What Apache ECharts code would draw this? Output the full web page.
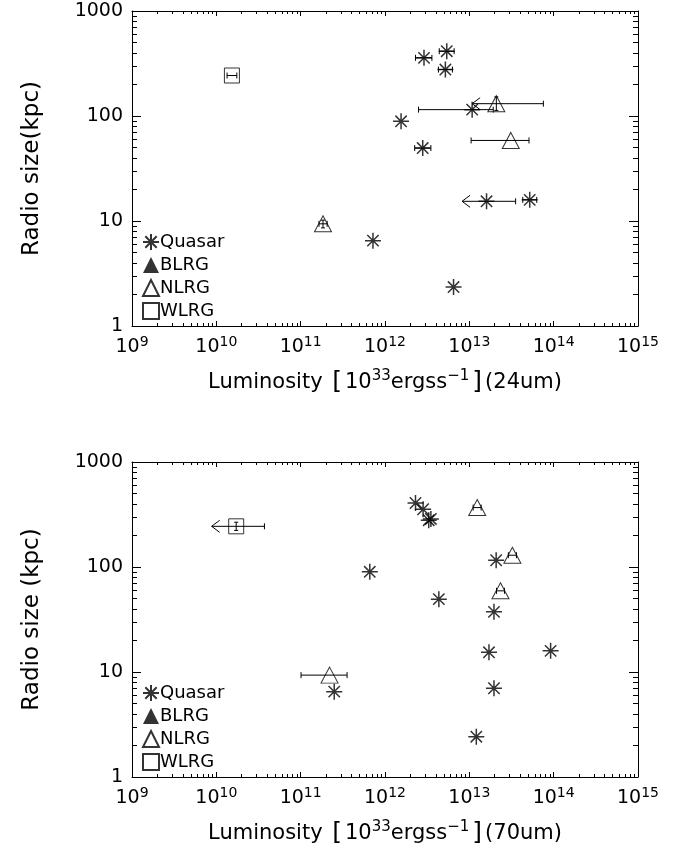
<!DOCTYPE html>
<html>
<head>
<meta charset="utf-8">
<script src="https://cdn.jsdelivr.net/npm/echarts@6/dist/echarts.min.js"></script>
<style>
html,body{margin:0;padding:0;background:#fff;}
#c{width:681px;height:853px;}
</style>
</head>
<body>
<div id="c"></div>
<script>
// ---------- Data: top panel (24um) ----------
const q24_L   = [2.9e12, 5.4e12, 5.2e12, 1.55e12, 2.8e12, 1.08e13, 1.6e13, 5.2e13, 7.2e11, 6.5e12];
const q24_R   = [358, 414, 277, 89, 49.5, 115, 15.4, 15.9, 6.5, 2.35];
const q24_Llo = [2.3e12, 4.4e12, 4.3e12, 0, 2.25e12, 2.5e12, 8.2e12, 4.3e13, 0, 0];
const q24_Lhi = [3.6e12, 6.6e12, 6.3e12, 0, 3.5e12, 1.92e13, 3.54e13, 6.3e13, 0, 0];
const q24_lim = [0, 0, 0, 0, 0, 0, 1, 0, 0, 0];

const n24_L   = [2.09e13, 3.1e13, 1.84e11];
const n24_R   = [131, 58.5, 9.4];
const n24_Llo = [1.08e13, 1.05e13, 1.65e11];
const n24_Lhi = [7.55e13, 5.1e13, 2.06e11];
const n24_lim = [1, 0, 0];
const n24_Rlo = [113, 0, 8.6];
const n24_Rhi = [152, 0, 10.2];

const w24_L   = [1.53e10];
const w24_R   = [243];
const w24_Llo = [1.34e10];
const w24_Lhi = [1.75e10];
const w24_lim = [0];

// ---------- Data: bottom panel (70um) ----------
const q70_L = [2.3e12, 2.83e12, 3.3e12, 3.5e12, 6.6e11, 4.35e12, 2.08e13, 1.96e13, 1.71e13, 9.2e13, 1.96e13, 2.5e11, 1.21e13];
const q70_R = [407, 355, 279, 287, 90, 49.4, 116, 37.4, 15.4, 15.9, 7.0, 6.5, 2.42];

const n70_L   = [1.24e13, 3.24e13, 2.34e13, 2.2e11];
const n70_R   = [368, 129.5, 59.3, 9.34];
const n70_Llo = [1.11e13, 2.9e13, 2.1e13, 1.01e11];
const n70_Lhi = [1.38e13, 3.62e13, 2.61e13, 3.55e11];
const n70_lim = [0, 0, 0, 0];

const w70_L   = [1.72e10];
const w70_R   = [244];
const w70_Llo = [8.8e9];
const w70_Lhi = [3.72e10];
const w70_lim = [1];
const w70_Rlo = [223];
const w70_Rhi = [267];

// ---------- Axes / labels ----------
const xRange = [1e9, 1e15];
const yRange = [1, 1000];
const legendNames = ['Quasar', 'BLRG', 'NLRG', 'WLRG'];
const xTitle24 = ['Luminosity ', '[', '10', '33', 'ergss', '\u22121', ']', '(24um)'];
const xTitle70 = ['Luminosity ', '[', '10', '33', 'ergss', '\u22121', ']', '(70um)'];
const yTitleTop = 'Radio size(kpc)';
const yTitleBot = 'Radio size (kpc)';

const FONT = 'DejaVu Sans';
const ASTER = 'path://M10,0L10,20M0,10L20,10M2.9,2.9L17.1,17.1M2.9,17.1L17.1,2.9';

const grids = [
  {left: 132, top: 11, width: 506, height: 315},
  {left: 132, top: 462, width: 506, height: 315}
];

function xLabelFmt(v) {
  const e = Math.round(Math.log10(v));
  return '{b|10}{s|' + e + '}';
}
const tickRich = {
  b: {fontFamily: FONT, fontSize: 19, color: '#000'},
  s: {fontFamily: FONT, fontSize: 14, color: '#000', padding: [0, 0, 11, 0]}
};
function titleRich() {
  return {
    t: {fontFamily: FONT, fontSize: 21, color: '#000'},
    br: {fontFamily: FONT, fontSize: 25, color: '#000', padding: [0, 3, 0, 3]},
    s: {fontFamily: FONT, fontSize: 15, color: '#000', padding: [0, 0, 12, 0]}
  };
}
function xTitle(p) {
  return '{t|' + p[0] + '}{br|' + p[1] + '}{t|' + p[2] + '}{s|' + p[3] + '}{t|' + p[4] + '}{s|' + p[5] + '}{br|' + p[6] + '}{t|' + p[7] + '}';
}

const BLACK = {color: '#000', width: 1};
const xAxes = [], yAxes = [];
[xTitle24, xTitle70].forEach((tp, g) => {
  ['bottom', 'top'].forEach(pos => {
    const main = pos === 'bottom';
    xAxes.push({
      type: 'log', logBase: 10, gridIndex: g, min: xRange[0], max: xRange[1], splitNumber: 6,
      position: pos,
      name: main ? xTitle(tp) : '', nameLocation: 'middle', nameGap: 43,
      nameTextStyle: {rich: titleRich()},
      axisLine: {lineStyle: BLACK},
      axisTick: {inside: true, length: 5, lineStyle: BLACK},
      minorTick: {show: true, splitNumber: 9, length: 3, lineStyle: BLACK},
      axisLabel: main ? {formatter: xLabelFmt, rich: tickRich, margin: 9, showMinLabel: true, showMaxLabel: true} : {show: false},
      splitLine: {show: false}, minorSplitLine: {show: false}
    });
  });
});
[yTitleTop, yTitleBot].forEach((tt, g) => {
  ['left', 'right'].forEach(pos => {
    const main = pos === 'left';
    yAxes.push({
      type: 'log', logBase: 10, gridIndex: g, min: yRange[0], max: yRange[1], splitNumber: 3,
      position: pos,
      name: main ? tt : '', nameLocation: 'middle', nameGap: 88, nameRotate: 90,
      nameTextStyle: {fontFamily: FONT, fontSize: 23, color: '#000'},
      axisLine: {lineStyle: BLACK},
      axisTick: {inside: true, length: 9, lineStyle: BLACK},
      minorTick: {show: true, splitNumber: 9, length: 5, lineStyle: BLACK},
      axisLabel: main ? {fontFamily: FONT, fontSize: 19, color: '#000', margin: 9, showMinLabel: true, showMaxLabel: true,
        formatter: v => String(Math.round(v))} : {show: false},
      splitLine: {show: false}, minorSplitLine: {show: false}
    });
  });
});

function zipPts(L, R) { return L.map((v, i) => [v, R[i]]); }
function errData(L, R, lo, hi, lim, rlo, rhi) {
  return L.map((v, i) => [v, R[i], lo ? lo[i] : 0, hi ? hi[i] : 0, lim ? lim[i] : 0, rlo ? rlo[i] : 0, rhi ? rhi[i] : 0]);
}

function LS() { return {stroke: '#000', lineWidth: 1, fill: 'none'}; }
function renderErr(params, api) {
  const x = api.value(0), y = api.value(1);
  const lo = api.value(2), hi = api.value(3), lim = api.value(4), rlo = api.value(5), rhi = api.value(6);
  const ch = [];
  const cap = 3;
  if (lo > 0 && hi > 0) {
    const p1 = api.coord([lo, y]), p2 = api.coord([hi, y]);
    ch.push({type: 'line', shape: {x1: p1[0], y1: p1[1], x2: p2[0], y2: p2[1]}, style: LS()});
    ch.push({type: 'line', shape: {x1: p2[0], y1: p2[1] - cap, x2: p2[0], y2: p2[1] + cap}, style: LS()});
    if (lim) {
      ch.push({type: 'polyline', shape: {points: [[p1[0] + 8, p1[1] - 6], [p1[0], p1[1]], [p1[0] + 8, p1[1] + 6]]}, style: LS()});
    } else {
      ch.push({type: 'line', shape: {x1: p1[0], y1: p1[1] - cap, x2: p1[0], y2: p1[1] + cap}, style: LS()});
    }
  }
  if (rlo > 0 && rhi > 0) {
    const p1 = api.coord([x, rlo]), p2 = api.coord([x, rhi]);
    ch.push({type: 'line', shape: {x1: p1[0], y1: p1[1], x2: p2[0], y2: p2[1]}, style: LS()});
    ch.push({type: 'line', shape: {x1: p1[0] - 2, y1: p1[1], x2: p1[0] + 2, y2: p1[1]}, style: LS()});
    ch.push({type: 'line', shape: {x1: p2[0] - 2, y1: p2[1], x2: p2[0] + 2, y2: p2[1]}, style: LS()});
  }
  return {type: 'group', children: ch};
}

const qStyle = {color: '#000', borderColor: '#000', borderWidth: 1.5};
const hollow = {color: 'rgba(255,255,255,0)', borderColor: '#000', borderWidth: 1};

function panelSeries(g, qL, qR, nL, nR, wL, wR, errs) {
  const xi = g * 2, yi = g * 2;
  return [
    {type: 'custom', xAxisIndex: xi, yAxisIndex: yi, renderItem: renderErr, data: errs, silent: true, z: 2, encode: {x: 0, y: 1}},
    {name: 'Quasar', type: 'scatter', xAxisIndex: xi, yAxisIndex: yi, symbol: ASTER, symbolSize: 16, itemStyle: qStyle, data: zipPts(qL, qR), z: 3},
    {name: 'BLRG', type: 'scatter', xAxisIndex: xi, yAxisIndex: yi, symbol: 'triangle', symbolSize: [16, 15], itemStyle: {color: '#000'}, data: [], z: 3},
    {name: 'NLRG', type: 'scatter', xAxisIndex: xi, yAxisIndex: yi, symbol: 'triangle', symbolSize: [17, 16], itemStyle: hollow, data: zipPts(nL, nR), z: 3},
    {name: 'WLRG', type: 'scatter', xAxisIndex: xi, yAxisIndex: yi, symbol: 'rect', symbolSize: 15, itemStyle: hollow, data: zipPts(wL, wR), z: 3}
  ];
}

const errTop = []
  .concat(errData(q24_L, q24_R, q24_Llo, q24_Lhi, q24_lim))
  .concat(errData(n24_L, n24_R, n24_Llo, n24_Lhi, n24_lim, n24_Rlo, n24_Rhi))
  .concat(errData(w24_L, w24_R, w24_Llo, w24_Lhi, w24_lim));
const errBot = []
  .concat(errData(n70_L, n70_R, n70_Llo, n70_Lhi, n70_lim))
  .concat(errData(w70_L, w70_R, w70_Llo, w70_Lhi, w70_lim, w70_Rlo, w70_Rhi));

const legendBase = {
  data: legendNames.map(n => ({name: n, icon: n === 'Quasar' ? ASTER : (n === 'WLRG' ? 'rect' : 'triangle')})),
  orient: 'vertical', left: 142, itemWidth: 16, itemHeight: 16, itemGap: 5, padding: 0,
  textStyle: {fontFamily: FONT, fontSize: 18, color: '#000', lineHeight: 16, padding: [0, 0, 0, -4]},
  selectedMode: false
};

const chart = echarts.init(document.getElementById('c'), null, {renderer: 'canvas'});
chart.setOption({
  backgroundColor: '#fff',
  animation: false,
  grid: grids,
  xAxis: xAxes,
  yAxis: yAxes,
  legend: [Object.assign({top: 233}, legendBase), Object.assign({top: 684}, legendBase)],
  series: panelSeries(0, q24_L, q24_R, n24_L, n24_R, w24_L, w24_R, errTop)
    .concat(panelSeries(1, q70_L, q70_R, n70_L, n70_R, w70_L, w70_R, errBot))
});
</script>
</body>
</html>
